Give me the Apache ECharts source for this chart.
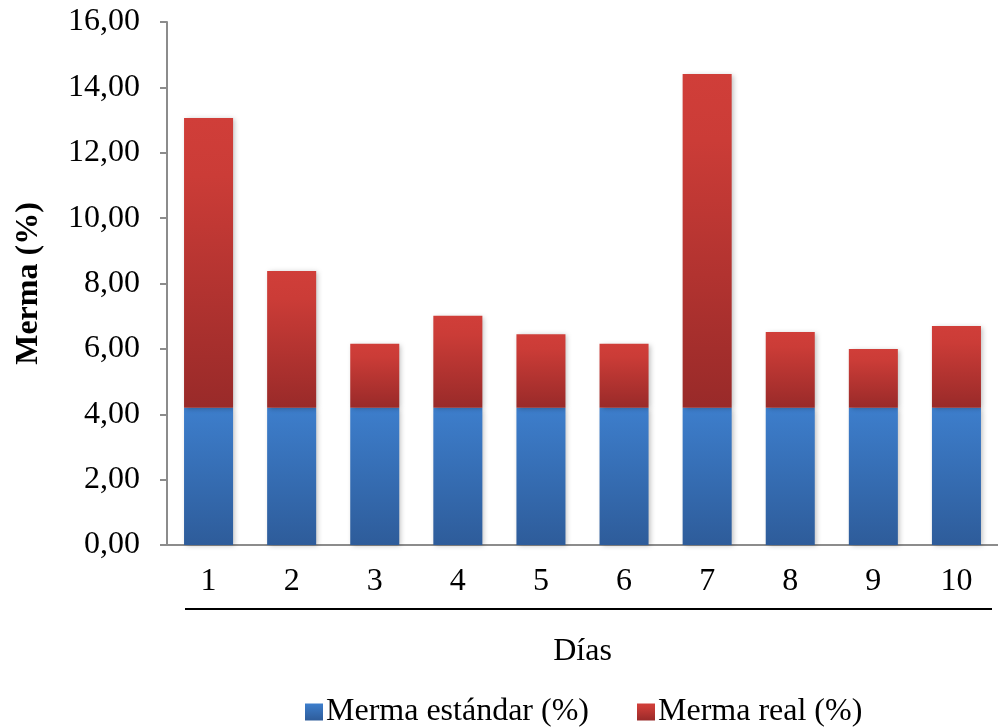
<!DOCTYPE html>
<html><head><meta charset="utf-8">
<script src="https://cdn.jsdelivr.net/npm/echarts@6/dist/echarts.min.js"></script>
<style>html,body{margin:0;padding:0;background:#fff}#c{width:998px;height:727px}</style>
</head><body><div id="c"></div>
<script>
const categories = ['1','2','3','4','5','6','7','8','9','10'];
const mermaEstandar = [4.20,4.20,4.20,4.20,4.20,4.20,4.20,4.20,4.20,4.20];
const mermaReal = [8.86,4.18,1.96,2.81,2.25,1.96,10.21,2.32,1.80,2.50];
const yTicks = {min:0, max:16, interval:2};

const FONT = '"Liberation Serif","Times New Roman",serif';
const chart = echarts.init(document.getElementById('c'), null, {renderer:'canvas'});
const blueGrad = new echarts.graphic.LinearGradient(0,0,0,1,[{offset:0,color:'#3d7ecc'},{offset:1,color:'#2e5c9a'}]);
const redGrad = new echarts.graphic.LinearGradient(0,0,0,1,[{offset:0,color:'#d03e39'},{offset:0.2,color:'#cb3c37'},{offset:1,color:'#992a29'}]);
chart.setOption({
  animation:false,
  grid:{left:167,right:0,top:22,bottom:182,containLabel:false},
  legend:{
    top:691,left:300,icon:'rect',itemWidth:18,itemHeight:17,itemGap:48,padding:5,
    textStyle:{fontFamily:FONT,fontSize:32,color:'#000',padding:[0,0,0,-2]},
    data:[{name:'Merma estándar (%)',itemStyle:{color:blueGrad}},{name:'Merma real (%)',itemStyle:{color:redGrad}}]
  },
  xAxis:{
    type:'category',data:categories,
    name:'Días',nameLocation:'middle',nameGap:91,
    nameTextStyle:{fontFamily:FONT,fontSize:32,color:'#000'},
    axisLine:{lineStyle:{color:'#8c8c8c',width:2}},
    axisTick:{show:false},
    axisLabel:{fontFamily:FONT,fontSize:32,color:'#000',margin:21}
  },
  yAxis:{
    type:'value',min:yTicks.min,max:yTicks.max,interval:yTicks.interval,
    name:'Merma (%)',nameLocation:'middle',nameGap:122,nameRotate:90,
    nameTextStyle:{fontFamily:FONT,fontSize:32,fontWeight:'bold',color:'#000'},
    axisLine:{show:true,lineStyle:{color:'#8c8c8c',width:2}},
    axisTick:{show:true,length:7,lineStyle:{color:'#8c8c8c',width:2}},
    splitLine:{show:false},
    axisLabel:{fontFamily:FONT,fontSize:32,color:'#000',margin:27,
      formatter:v=>v.toFixed(2).replace('.',',')}
  },
  graphic:[{type:'line',shape:{x1:185,y1:609,x2:992,y2:609},style:{stroke:'#000',lineWidth:2}}],
  series:[
    {name:'Merma estándar (%)',type:'bar',stack:'t',data:mermaEstandar,barWidth:'59%',
     itemStyle:{color:blueGrad,shadowBlur:5,shadowColor:'rgba(0,0,0,0.25)',shadowOffsetX:2,shadowOffsetY:1}},
    {name:'Merma real (%)',type:'bar',stack:'t',data:mermaReal,barWidth:'59%',
     itemStyle:{color:redGrad,shadowBlur:5,shadowColor:'rgba(0,0,0,0.25)',shadowOffsetX:2,shadowOffsetY:1}}
  ]
});
</script></body></html>
